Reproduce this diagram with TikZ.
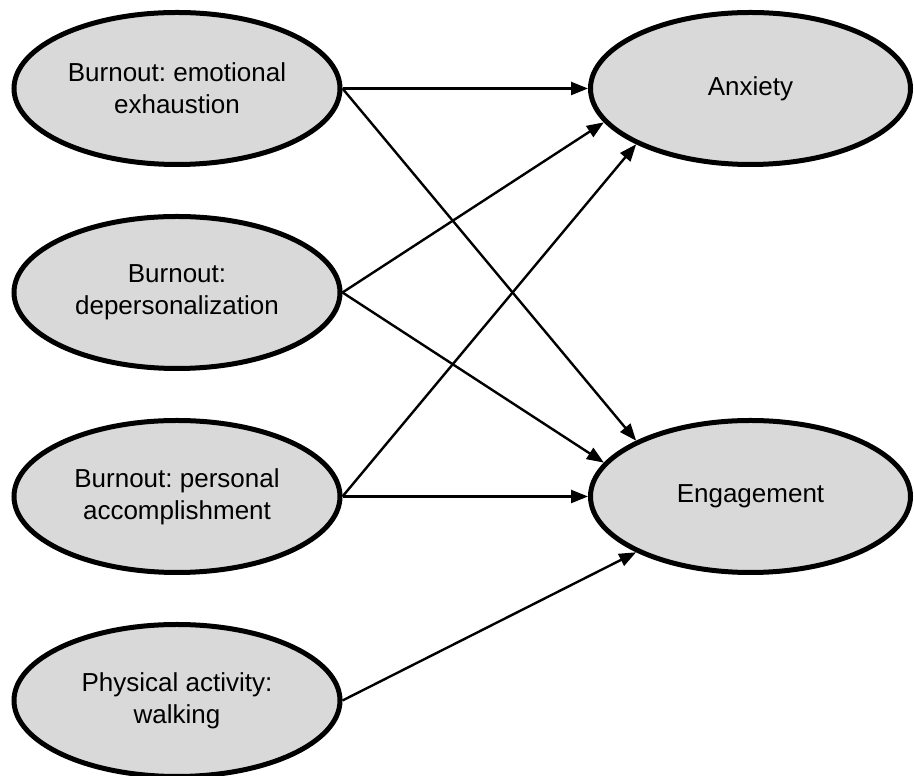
\documentclass[tikz,border=0pt]{standalone}
\usepackage{fontspec}
\setmainfont{Liberation Sans}
\usetikzlibrary{shapes.geometric,arrows.meta}
\definecolor{ellfill}{HTML}{D9D9D9}
\frenchspacing
\tikzset{
  latent/.style={ellipse, draw=black, line width=5pt, fill=ellfill, inner sep=0pt,
    minimum width=326pt, minimum height=152pt, align=center,
    font=\fontsize{26pt}{32pt}\selectfont},
  latentr/.style={latent, minimum width=320pt},
  path/.style={line width=2.4pt, -{Triangle[length=17pt,width=13pt]}}
}
\begin{document}
\begin{tikzpicture}[x=1pt,y=1pt]
\useasboundingbox (0,0) rectangle (914,776);
\node[latent] (ee) at (177,687.5) {Burnout: emotional\\exhaustion};
\node[latent] (dp) at (177,483.5) {Burnout:\\depersonalization};
\node[latent] (pa) at (177,279.5) {Burnout: personal\\accomplishment};
\node[latent] (pw) at (177,75.5) {Physical activity:\\walking};
\node[latentr] (anx) at (750.5,687.5) {Anxiety};
\node[latentr] (eng) at (750.5,279.5) {Engagement};
\draw[path] (ee.east) -- (anx.west);
\draw[path] (ee.east) -- (eng.154);
\draw[path] (dp.east) -- (anx.193);
\draw[path] (dp.east) -- (eng.167);
\draw[path] (pa.east) -- (anx.206);
\draw[path] (pa.east) -- (eng.west);
\draw[path] (pw.east) -- (eng.206);
\end{tikzpicture}
\end{document}
